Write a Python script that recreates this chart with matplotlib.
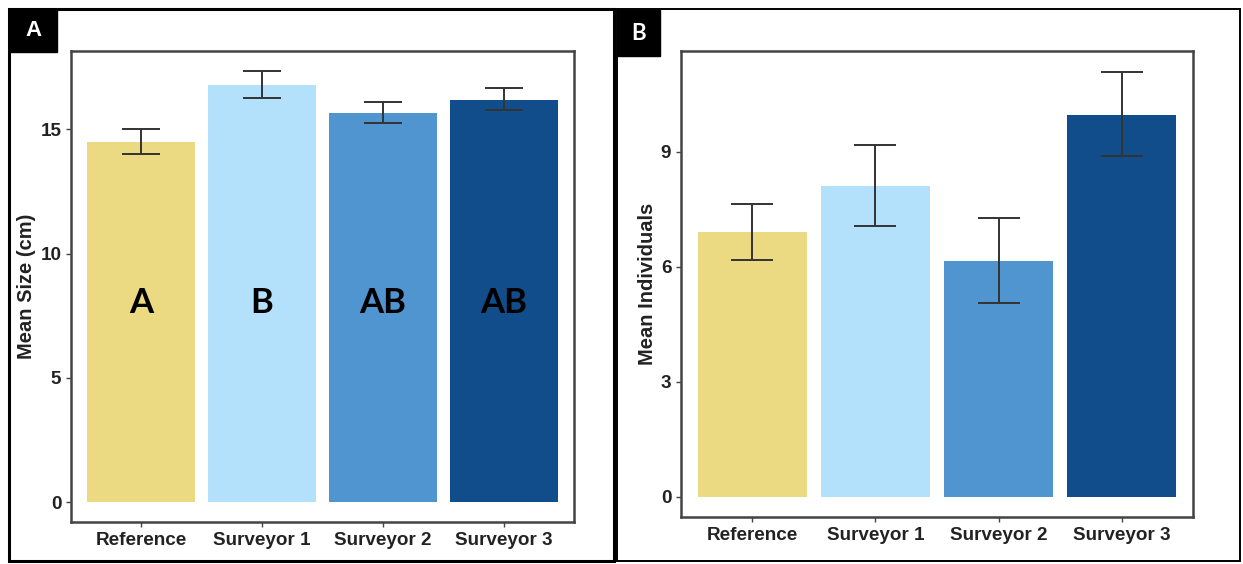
import matplotlib.pyplot as plt
from matplotlib.patches import Rectangle

# Values
groups = ['Reference', 'Surveyor 1', 'Surveyor 2', 'Surveyor 3']
colors = ['#EBDA82', '#B3E0FB', '#5095CF', '#114D8A']

size_mean = [14.48, 16.77, 15.64, 16.17]
size_lo = [14.0, 16.25, 15.24, 15.76]
size_hi = [15.0, 17.33, 16.08, 16.65]
size_letters = ['A', 'B', 'AB', 'AB']

ind_mean = [6.9, 8.1, 6.15, 9.97]
ind_lo = [6.17, 7.06, 5.05, 8.9]
ind_hi = [7.65, 9.19, 7.27, 11.09]

W, H = 1243, 564
fig = plt.figure(figsize=(W / 100, H / 100), dpi=100)
plt.rcParams['font.family'] = ['Liberation Sans', 'DejaVu Sans']

def px(x0, y0, x1, y1):
    # pixel box (top-left origin) -> figure fraction rect
    return [x0 / W, 1 - y1 / H, (x1 - x0) / W, (y1 - y0) / H]

def panel(rect, means, lo, hi, ylim, yticks, ylabel, cap):
    ax = fig.add_axes(rect)
    x = list(range(len(groups)))
    ax.bar(x, means, width=0.89, color=colors, zorder=2)
    err = [[m - l for m, l in zip(means, lo)], [h - m for m, h in zip(means, hi)]]
    ax.errorbar(x, means, yerr=err, fmt='none', ecolor='#333333',
                elinewidth=1.4, capsize=cap, capthick=1.4, zorder=3)
    ax.set_xlim(-0.58, 3.58)
    ax.set_ylim(*ylim)
    ax.set_yticks(yticks)
    ax.set_xticks(x)
    ax.set_xticklabels(groups)
    for s in ax.spines.values():
        s.set_color('#444444')
        s.set_linewidth(1.8)
    ax.tick_params(colors='#444444', length=3.5, width=1, labelsize=13.6,
                   labelcolor='#222222')
    for lab in ax.get_xticklabels() + ax.get_yticklabels():
        lab.set_fontweight('bold')
    ax.set_ylabel(ylabel, fontsize=14.5, fontweight='bold', color='#222222',
                  labelpad=3)
    return ax

axA = panel(px(71, 51, 574, 522), size_mean, size_lo, size_hi,
            (-0.8, 18.15), [0, 5, 10, 15], 'Mean Size (cm)', 14)
for i, t in enumerate(size_letters):
    axA.text(i, 8.0, t, ha='center', va='center', fontsize=25,
             fontweight='bold', family=['Lato', 'DejaVu Sans'], color='black', zorder=4)

axB = panel(px(681, 51, 1193, 517), ind_mean, ind_lo, ind_hi,
            (-0.53, 11.63), [0, 3, 6, 9], 'Mean Individuals', 15)

# panel frames and letter boxes
def fig_rect(x0, y0, x1, y1, **kw):
    r = Rectangle((x0 / W, 1 - y1 / H), (x1 - x0) / W, (y1 - y0) / H,
                  transform=fig.transFigure, **kw)
    fig.add_artist(r)

fig_rect(9, 9, 614, 561, fill=False, edgecolor='black', linewidth=2.2)
fig_rect(617, 9, 1240, 561, fill=False, edgecolor='black', linewidth=1.4)
fig_rect(10, 10, 57, 52, facecolor='black', edgecolor='black')
fig_rect(617, 10, 660, 56, facecolor='black', edgecolor='black')
fig.text(33.5 / W, 1 - 31 / H, 'A', color='white', fontsize=16,
         fontweight='bold', ha='center', va='center')
fig.text(638.5 / W, 1 - 33 / H, 'B', color='white', fontsize=16,
         fontweight='bold', ha='center', va='center', family=['Lato', 'DejaVu Sans'])

fig.savefig('out.png', dpi=100)
